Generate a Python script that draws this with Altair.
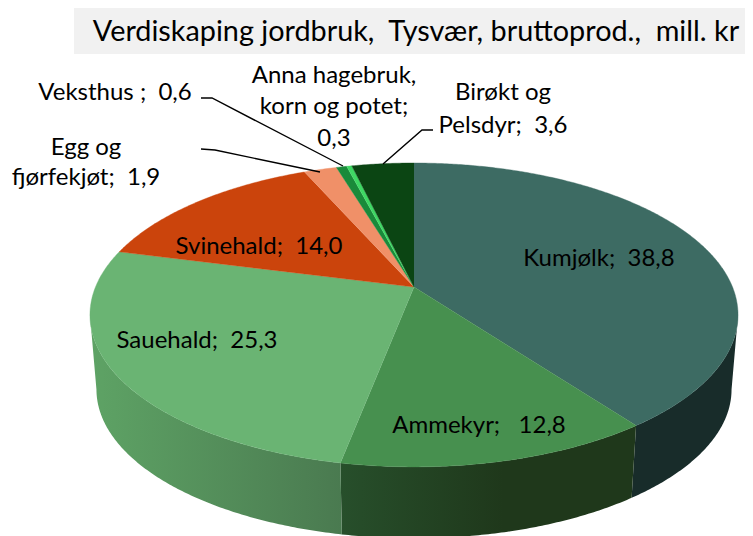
import math
import altair as alt
import pandas as pd

NB = "\u00a0"
categories = ["Kumjølk", "Ammekyr", "Sauehald", "Svinehald", "Egg og fjørfekjøt", "Veksthus", "Anna hagebruk, korn og potet", "Birøkt og Pelsdyr"]
values = [38.8, 12.8, 25.3, 14.0, 1.9, 0.6, 0.3, 3.6]
top_colors = ["#3d6b63", "#47904f", "#6ab473", "#cb440c", "#f09068", "#1a8a3a", "#3fd864", "#0b4513"]
title_text = f"Verdiskaping jordbruk,{NB} Tysvær, bruttoprod.,{NB} mill. kr"
label_lines = [f"Kumjølk;{NB} 38,8", f"Ammekyr;{NB}{NB} 12,8", f"Sauehald;{NB} 25,3", f"Svinehald;{NB} 14,0",
               "Egg og", f"fjørfekjøt;{NB} 1,9", f"Veksthus ;{NB} 0,6",
               "Anna hagebruk,", "korn og potet;", "0,3", "Birøkt og", f"Pelsdyr;{NB} 3,6"]
label_x = [599, 479, 197, 259, 86, 86, 115, 334, 334, 334, 503, 503]
label_y = [259, 426, 341, 247, 148, 178, 93, 76, 107, 139, 93, 126]

CX, CY, A, B, P = 414.0, 287.0, 318.5, 146.8, 0.184
SHRINK, DROP = 0.98, 75.0
X = alt.Scale(domain=[8, 745], range=[0, 737])
Y = alt.Scale(domain=[536, 8], range=[528, 0])
xe = alt.X("x:Q", scale=X, axis=None)
ye = alt.Y("y:Q", scale=Y, axis=None)


def proj(deg, s=1.0, d=0.0):
    t = math.radians(deg)
    w = 1 + P * math.cos(t)
    return CX + s * A * math.sin(t) / w, CY + d + s * B * (-math.cos(t)) / w


def arc_pts(a0, a1, s=1.0, d=0.0):
    n = max(2, int(abs(a1 - a0) * 2) + 1)
    return [proj(a0 + (a1 - a0) * i / (n - 1), s, d) for i in range(n)]


def poly(pts, **mark):
    df = pd.DataFrame({"x": [p[0] for p in pts], "y": [p[1] for p in pts], "i": range(len(pts))})
    return alt.Chart(df).mark_line(clip=True, **mark).encode(x=xe, y=ye, order="i:Q")


def grad(stops):
    return alt.Gradient(gradient="linear", x1=0, x2=1, y1=0, y2=0,
                        stops=[alt.GradientStop(offset=o, color=c) for o, c in stops])


total = sum(values)
edges = [0.0]
for v in values:
    edges.append(edges[-1] + v / total * 360)

left_ext = 360 - math.degrees(math.acos(-P))
right_ext = math.degrees(math.acos(-P))
wall_fills = [[(0, "#182c2a"), (1, "#182c2a")],
              [(0, "#274f2b"), (0.55, "#1f381b"), (1, "#1f381b")],
              [(0, "#5ea365"), (1, "#4a7a50")]]

layers = []
bg = pd.DataFrame({"x": [74], "x2": [745], "y": [6], "y2": [54]})
layers.append(alt.Chart(bg).mark_rect(color="#f1f1f1").encode(x=xe, x2="x2:Q", y=ye, y2="y2:Q"))

for k, stops in enumerate(wall_fills):
    a0 = max(edges[k], right_ext)
    a1 = min(edges[k + 1], left_ext)
    pts = arc_pts(a0, a1) + arc_pts(a1, a0, SHRINK, DROP)
    layers.append(poly(pts, fill=grad(stops), strokeWidth=0))

for k, col in enumerate(top_colors):
    pts = [(CX, CY)] + arc_pts(edges[k], edges[k + 1])
    layers.append(poly(pts, fill=col, stroke=col, strokeWidth=0.4))

leaders = [
    [(201, 98), (212, 98), (343, 166)],
    [(201, 149), (215, 150), (320, 172)],
    [(433, 130), (422, 130), (383, 164)],
]
for pts in leaders:
    layers.append(poly(pts, stroke="black", strokeWidth=1.4))

labels = pd.DataFrame({"x": label_x, "y": label_y, "t": label_lines})
layers.append(alt.Chart(labels).mark_text(font="Lato", fontSize=24, color="black", align="center", baseline="middle")
              .encode(x=xe, y=ye, text="t:N"))
title = pd.DataFrame({"x": [416], "y": [32], "t": [title_text]})
layers.append(alt.Chart(title).mark_text(font="Lato", fontSize=28.8, color="black", align="center", baseline="middle")
              .encode(x=xe, y=ye, text="t:N"))

chart = alt.layer(*layers).properties(width=737, height=528, padding=0, background="white",
                                      autosize=alt.AutoSizeParams(type="none")) \
    .configure_view(strokeWidth=0, stroke="transparent")
chart.save("out.html", embed_options={"renderer": "svg", "actions": False})
